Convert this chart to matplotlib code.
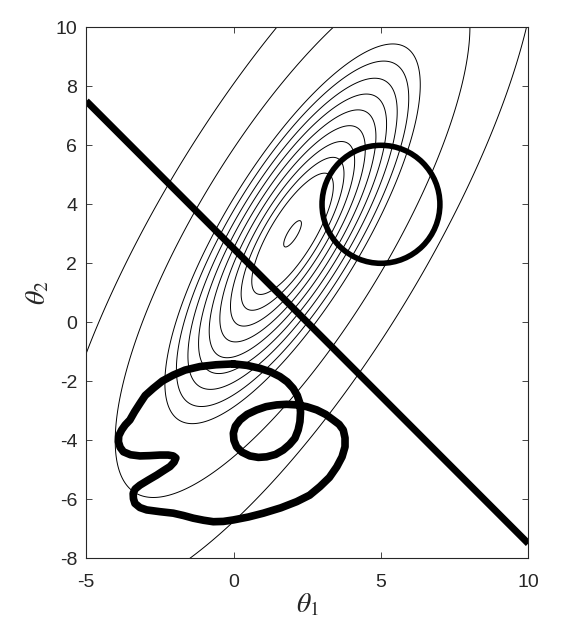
import numpy as np
import matplotlib
matplotlib.use("Agg")
import matplotlib.pyplot as plt
from matplotlib.patches import Circle

plt.rcParams['font.family'] = ['Liberation Sans', 'DejaVu Sans']
plt.rcParams['mathtext.fontset'] = 'stix'
plt.rcParams['axes.unicode_minus'] = False

# quadratic bowl: f = d^T A d, d = theta - centre
bowl_centre = [2.0, 3.0]
bowl_matrix = [[0.0719, -0.038], [-0.038, 0.0326]]
# contour levels of sqrt(f)
bowl_levels = [0.05, 0.23, 0.29, 0.35, 0.41, 0.47, 0.53, 0.59, 0.655, 0.72, 1.0, 1.38]

# linear constraint
line_x = [-5, 10]
line_y = [7.5, -7.5]

# ball constraint
ball_centre = (5, 4)
ball_radius = 2

# non-convex constraint, hand drawn (one closed stroke crossing itself)
blob_x = [-0.01, -0.60, -1.14, -1.65, -2.05, -2.42, -2.73, -3.00, -3.18, -3.36, -3.52,
          -3.68, -3.80, -3.90, -3.91, -3.85, -3.74, -3.50, -3.18, -2.85, -2.50, -2.22,
          -2.05, -1.96, -2.02, -2.16, -2.38, -2.61, -2.90, -3.18, -3.34, -3.41, -3.40,
          -3.35, -3.18, -2.95, -2.50, -2.05, -1.70, -1.37, -1.02, -0.69, -0.35, -0.01,
          0.50, 1.01, 1.60, 2.14, 2.58, 2.93, 3.25, 3.50, 3.68, 3.78, 3.78, 3.72,
          3.58, 3.38, 3.12, 2.82, 2.48, 2.14, 1.80, 1.46, 1.10, 0.78, 0.46, 0.22,
          0.06, -0.01, 0.01, 0.10, 0.28, 0.55, 0.84, 1.12, 1.42, 1.68, 1.90, 2.08,
          2.19, 2.25, 2.27, 2.25, 2.16, 2.02, 1.82, 1.57, 1.25, 0.89, 0.45, -0.01]
blob_y = [-1.41, -1.44, -1.50, -1.62, -1.79, -1.99, -2.24, -2.48, -2.75, -3.03, -3.31,
          -3.48, -3.65, -3.85, -4.05, -4.24, -4.39, -4.49, -4.53, -4.52, -4.50, -4.50,
          -4.53, -4.60, -4.74, -4.89, -5.03, -5.18, -5.35, -5.52, -5.65, -5.80, -5.98,
          -6.14, -6.28, -6.36, -6.42, -6.47, -6.55, -6.64, -6.71, -6.76, -6.75, -6.70,
          -6.60, -6.47, -6.29, -6.08, -5.86, -5.57, -5.26, -4.90, -4.56, -4.22, -3.92,
          -3.65, -3.46, -3.31, -3.12, -2.97, -2.86, -2.80, -2.78, -2.80, -2.86, -2.97,
          -3.12, -3.31, -3.52, -3.76, -4.00, -4.22, -4.40, -4.53, -4.58, -4.56, -4.48,
          -4.33, -4.14, -3.93, -3.65, -3.37, -3.06, -2.75, -2.48, -2.24, -2.02, -1.84,
          -1.68, -1.56, -1.46, -1.41]

x_ticks = [-5, 0, 5, 10]
y_ticks = [-8, -6, -4, -2, 0, 2, 4, 6, 8, 10]

fig = plt.figure(figsize=(5.61, 6.33), dpi=100)
ax = fig.add_axes([86.3 / 561, (633 - 558.3) / 633, 442 / 561, 531 / 633])

gx = np.linspace(-5, 10, 700)
gy = np.linspace(-8, 10, 840)
X, Y = np.meshgrid(gx, gy)
A = np.array(bowl_matrix)
dx = X - bowl_centre[0]
dy = Y - bowl_centre[1]
F = A[0, 0] * dx**2 + 2 * A[0, 1] * dx * dy + A[1, 1] * dy**2
ax.contour(X, Y, np.sqrt(F), levels=bowl_levels, colors='k', linewidths=0.7)

ax.plot(line_x, line_y, color='k', lw=5, solid_capstyle='butt')
ax.add_patch(Circle(ball_centre, ball_radius, fill=False, ec='k', lw=4))
ax.plot(blob_x, blob_y, color='k', lw=5.5, solid_joinstyle='round', solid_capstyle='round')

ax.set_xlim(-5, 10)
ax.set_ylim(-8, 10)
ax.set_xticks(x_ticks)
ax.set_yticks(y_ticks)
ax.tick_params(direction='in', top=True, right=True, length=4, width=0.6,
               labelsize=14, colors='#262626')
ax.tick_params(axis='x', pad=11)
ax.tick_params(axis='y', pad=6.5)
for s in ax.spines.values():
    s.set_linewidth(0.8)
    s.set_color('#262626')

ax.set_xlabel(r'$\theta_1$', fontsize=20, color='#262626', labelpad=1)
ax.set_ylabel(r'$\theta_2$', fontsize=20, color='#262626', labelpad=3)

fig.savefig("out.png", dpi=100)
